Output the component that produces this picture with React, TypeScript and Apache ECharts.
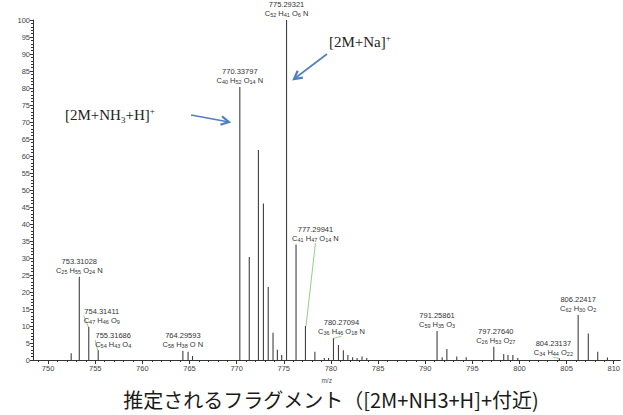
import React, { useEffect, useRef } from "react";
import * as echarts from "echarts";

// Centroid peaks: m/z and relative abundance (%)
const peakMz = [
  752.45, 753.31028, 754.31411, 755.31686, 764.29593, 764.85, 765.32,
  770.33797, 771.34, 772.31, 772.84, 773.35, 773.86, 774.32, 774.78,
  775.29321, 776.3, 777.29941, 778.3, 779.3, 779.75, 780.27094, 780.8,
  781.32, 781.8, 782.3, 782.78, 783.3, 783.8, 791.25861, 791.8, 792.3,
  793.35, 794.35, 797.2764, 798.33, 798.78, 799.3, 799.82, 804.23137,
  806.22417, 807.3, 808.3, 809.33,
];
const peakIntensity = [
  2.0, 24.5, 9.8, 2.9, 2.7, 2.4, 1.2,
  80.3, 30.3, 61.8, 46.0, 21.5, 8.0, 3.0, 1.5,
  100, 34.0, 10.0, 2.4, 0.6, 0.6, 6.4, 4.4,
  2.9, 1.5, 0.8, 0.6, 1.0, 0.6, 8.5, 0.8, 3.2,
  1.0, 0.8, 3.9, 1.8, 1.5, 1.5, 0.6, 0.5,
  13.2, 7.8, 2.4, 0.7,
];

// Assigned peaks and their proposed formulas
const annotatedMasses = [
  "753.31028", "754.31411", "755.31686", "764.29593", "770.33797", "775.29321",
  "777.29941", "780.27094", "791.25861", "797.27640", "804.23137", "806.22417",
];
const annotatedFormulas = [
  "C25 H55 O24 N", "C47 H46 O9", "C54 H43 O4", "C58 H38 O N", "C40 H52 O14 N",
  "C52 H41 O6 N", "C41 H47 O14 N", "C36 H46 O18 N", "C59 H35 O3", "C26 H53 O27",
  "C34 H44 O22", "C62 H30 O2",
];

// Axis tick labels
const xMajorTicks = [750, 755, 760, 765, 770, 775, 780, 785, 790, 795, 800, 805, 810];
const xMinorTicks = [
  749, 750, 751, 752, 753, 754, 755, 756, 757, 758, 759, 760, 761, 762, 763, 764,
  765, 766, 767, 768, 769, 770, 771, 772, 773, 774, 775, 776, 777, 778, 779, 780,
  781, 782, 783, 784, 785, 786, 787, 788, 789, 790, 791, 792, 793, 794, 795, 796,
  797, 798, 799, 800, 801, 802, 803, 804, 805, 806, 807, 808, 809, 810,
];

const title = "推定されるフラグメント（[2M+NH3+H]+付近)";

// Label nudges (px) for crowded assignments, keyed by mass label
const labelNudge: Record<string, [number, number]> = {
  "754.31411": [13, 0],
  "755.31686": [15, 1],
  "777.29941": [10, -81],
  "780.27094": [8, 0],
  "797.27640": [2, 0],
  "804.23137": [-6, 1],
};
const withLeader = ["754.31411", "755.31686", "777.29941", "780.27094", "804.23137"];

const labelColor = "#333333";

function formulaRich(f: string): string {
  return f
    .split(" ")
    .map((part, i) => {
      const m = part.match(/^([A-Z][a-z]?)(\d*)$/);
      if (!m) return part;
      const lead = i === 0 ? "" : " ";
      return `{el|${lead}${m[1]}}` + (m[2] ? `{sub|${m[2]}}` : "");
    })
    .join("");
}

function arrow(x1: number, y1: number, x2: number, y2: number, color: string) {
  const a = Math.atan2(y2 - y1, x2 - x1);
  const len = 9;
  const spread = 0.5;
  const p1 = [x2 - len * Math.cos(a - spread), y2 - len * Math.sin(a - spread)];
  const p2 = [x2 - len * Math.cos(a + spread), y2 - len * Math.sin(a + spread)];
  return [
    {
      type: "line",
      shape: { x1, y1, x2, y2 },
      style: { stroke: color, lineWidth: 1.6 },
      z: 10,
    },
    {
      type: "polyline",
      shape: { points: [p1, [x2, y2], p2] },
      style: { stroke: color, lineWidth: 2.2, fill: null, lineJoin: "miter" },
      z: 10,
    },
  ];
}

export default function App() {
  const ref = useRef<HTMLDivElement>(null);

  useEffect(() => {
    if (!ref.current) return;
    const chart = echarts.init(ref.current, null, { renderer: "svg" });

    const rich = {
      m: { fontSize: 7.5, color: labelColor, lineHeight: 9, fontFamily: "Liberation Sans" },
      el: { fontSize: 7.5, color: labelColor, lineHeight: 9, fontFamily: "Liberation Sans" },
      sub: {
        fontSize: 5.5,
        color: labelColor,
        lineHeight: 7,
        verticalAlign: "bottom",
        fontFamily: "Liberation Sans",
      },
    };

    const greenLine = { color: "#7cbf6a", width: 0.8 };
    const data = peakMz.map((mz, i) => {
      const key = annotatedMasses.find((m) => parseFloat(m) === mz);
      if (!key) return { value: [mz, peakIntensity[i]] };
      const formula = annotatedFormulas[annotatedMasses.indexOf(key)];
      return {
        value: [mz, peakIntensity[i]],
        label: {
          show: true,
          color: labelColor,
          formatter: `{m|${key}}\n${formulaRich(formula)}`,
          rich,
        },
        labelLine: withLeader.includes(key)
          ? { show: true, lineStyle: greenLine, smooth: false }
          : { show: false },
      };
    });
    const keyOf = (idx: number) =>
      annotatedMasses.find((m) => parseFloat(m) === peakMz[idx]);

    const arrowColor = "#4f7fbf";

    chart.setOption({
      animation: false,
      backgroundColor: "#ffffff",
      grid: { left: 33, right: 0, top: 20, bottom: 55, containLabel: false },
      xAxis: [
        {
          type: "value",
          min: 748.4,
          max: 810.7,
          name: "m/z",
          nameLocation: "middle",
          nameGap: 16,
          nameTextStyle: { fontSize: 6.5, color: "#555", fontFamily: "Liberation Sans" },
          axisLine: { show: true, lineStyle: { color: "#333", width: 1 } },
          axisTick: { show: true, customValues: xMajorTicks, length: 4, lineStyle: { color: "#333" } },
          axisLabel: {
            customValues: xMajorTicks,
            fontSize: 7.5,
            color: "#444",
            margin: 4,
            fontFamily: "Liberation Sans",
          },
          splitLine: { show: false },
        },
        {
          type: "value",
          min: 748.4,
          max: 810.7,
          position: "bottom",
          axisLine: { show: false },
          axisTick: { show: true, customValues: xMinorTicks, length: 2, lineStyle: { color: "#333" } },
          axisLabel: { show: false },
          splitLine: { show: false },
        },
      ],
      yAxis: {
        type: "value",
        min: 0,
        max: 100,
        interval: 5,
        axisLine: { show: true, lineStyle: { color: "#333", width: 1 } },
        axisTick: { show: true, length: 3, lineStyle: { color: "#333" } },
        minorTick: { show: true, splitNumber: 5, length: 2, lineStyle: { color: "#333" } },
        axisLabel: { fontSize: 7.5, color: "#444", margin: 3, fontFamily: "Liberation Sans" },
        splitLine: { show: false },
      },
      series: [
        {
          type: "bar",
          xAxisIndex: 0,
          barWidth: 1.1,
          itemStyle: { color: "#404040" },
          data,
          label: {
            show: false,
            position: "top",
            distance: 2,
            align: "center",
            color: labelColor,
            fontFamily: "Liberation Sans",
            lineHeight: 9,
            rich,
          },
          labelLine: { show: false },
          labelLayout: (p: any) => {
            const key = keyOf(p.dataIndex);
            const n = key ? labelNudge[key] : undefined;
            return n ? { dx: n[0], dy: n[1] } : {};
          },
        },
      ],
      graphic: [
        {
          type: "text",
          x: 65,
          y: 115,
          style: {
            text: "{t|[2M+NH}{sub|3}{t|+H]}{sup|+}",
            verticalAlign: "middle",
            rich: {
              t: { fontSize: 15, fontFamily: "Liberation Serif", fill: "#222", lineHeight: 18 },
              sub: {
                fontSize: 9,
                fontFamily: "Liberation Serif",
                fill: "#222",
                verticalAlign: "bottom",
                lineHeight: 18,
              },
              sup: { fontSize: 9, fontFamily: "Liberation Serif", fill: "#222", verticalAlign: "top", lineHeight: 18 },
            },
          },
          z: 10,
        },
        ...arrow(191, 115, 229, 122, arrowColor),
        {
          type: "text",
          x: 329,
          y: 42,
          style: {
            text: "{t|[2M+Na]}{sup|+}",
            verticalAlign: "middle",
            rich: {
              t: { fontSize: 15, fontFamily: "Liberation Serif", fill: "#222", lineHeight: 18 },
              sup: { fontSize: 9, fontFamily: "Liberation Serif", fill: "#222", verticalAlign: "top", lineHeight: 18 },
            },
          },
          z: 10,
        },
        ...arrow(327, 54, 294, 79, arrowColor),
        {
          type: "text",
          x: 331,
          y: 399,
          style: {
            text: title,
            align: "center",
            verticalAlign: "middle",
            fontSize: 20,
            fontFamily: "Noto Sans CJK JP",
            fill: "#1a1a1a",
          },
          z: 10,
        },
      ],
    });

    return () => chart.dispose();
  }, []);

  return (
    <div
      ref={ref}
      style={{ position: "fixed", left: 0, top: 0, width: 623, height: 415, background: "#fff" }}
    />
  );
}
